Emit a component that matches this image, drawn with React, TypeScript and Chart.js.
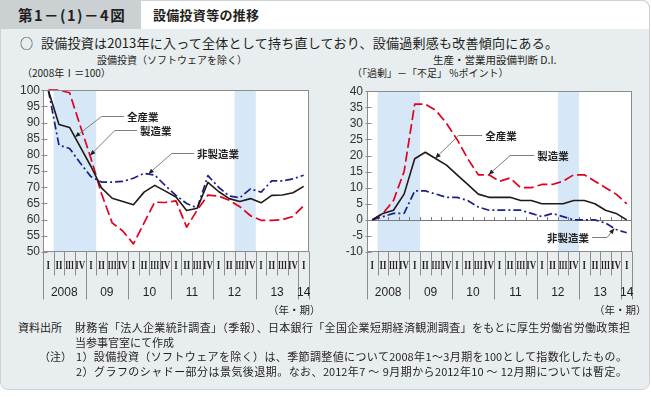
import React, { useEffect, useRef } from "react";
import { Chart, registerables } from "chart.js";

Chart.register(...registerables);

// ---------- data ----------
const quarterLabels = ["I","II","III","IV","I","II","III","IV","I","II","III","IV","I","II","III","IV","I","II","III","IV","I","II","III","IV","I"];
const yearLabels = ["2008", "09", "10", "11", "12", "13", "14"];
const yearStartIndex = [0, 4, 8, 12, 16, 20, 24];
const recessionIndex = [1, 2, 3, 4, 18, 19];

// 設備投資（ソフトウェアを除く） 2008年I=100
const investAll = [100, 89.4, 88.5, 82.5, 76.5, 69.8, 66.6, 65.6, 64.6, 68.5, 70.6, 68.8, 67, 62.8, 63.5, 71.5, 68.7, 66.5, 65.6, 66.5, 65.2, 67.5, 67.6, 68.3, 70.3];
const investMfg = [100, 100, 99.2, 89, 79, 68, 59, 56.5, 52.5, 59, 65.4, 65.3, 65.8, 57.7, 63, 67.6, 67.3, 66, 64, 61.2, 59.8, 59.8, 60, 61, 64.3];
const investNonMfg = [100, 83, 82, 77.5, 73.3, 71.6, 71.6, 71.8, 72.8, 74.3, 73.8, 70.5, 67.5, 65, 63.6, 73.6, 70, 67.3, 66.8, 69.5, 68.5, 72, 72, 72.6, 73.7];
const investYTicks = [50, 55, 60, 65, 70, 75, 80, 85, 90, 95, 100];

// 生産・営業用設備判断D.I.
const diAll = [0, 2, 3, 8, 19, 21, 19, 17, 14, 11, 8, 7, 7, 7, 6, 6, 5, 5, 5, 6, 6, 5, 3, 2, 0];
const diMfg = [0, 2, 6, 15, 36, 36, 34, 30, 25, 19, 14, 14, 12, 13, 10, 10, 11, 11, 12, 14, 14, 12, 10, 8, 5];
const diNonMfg = [0, 1, 2, 2, 9, 9, 8, 7, 7, 6, 4, 3, 3, 3, 3, 2, 1, 2, 1, 0, 0, 0, -1, -3, -4];
const diYTicks = [-10, -5, 0, 5, 10, 15, 20, 25, 30, 35, 40];

// ---------- styles ----------
const TEXT = "#231f20";
const SHADE = "#d6e8f7";
const AXIS = "#8c8c8c";
const BLACK = "#231815";
const RED = "#e2001d";
const NAVY = "#1d2088";
const JP = "'Noto Sans CJK JP', 'Noto Sans', sans-serif";
const LAT = "'Liberation Sans', Arial, sans-serif";

type Ann = {
  text: string;
  textIdx: number;
  textVal: number;
  align: "left" | "right";
  elbowIdx: number;
  targetIdx: number;
  series: number[];
};

const interp = (d: number[], t: number) => {
  const i = Math.min(Math.floor(t), d.length - 2);
  const f = t - i;
  return d[i] + (d[i + 1] - d[i]) * f;
};

function makeDecor(opts: { zeroLine: boolean; anns: Ann[] }) {
  return {
    id: "decor",
    beforeDatasetsDraw(chart: any) {
      const { ctx, chartArea: a } = chart;
      const x = chart.scales.x;
      const y = chart.scales.y;
      const step = x.getPixelForValue(1) - x.getPixelForValue(0);
      const b = (k: number) => x.getPixelForValue(0) + (k - 0.5) * step;
      ctx.save();
      ctx.fillStyle = "#ffffff";
      ctx.fillRect(a.left, a.top, a.right - a.left, a.bottom - a.top);
      ctx.fillStyle = SHADE;
      const idx = [...recessionIndex].sort((p, q) => p - q);
      let s = 0;
      while (s < idx.length) {
        let e = s;
        while (e + 1 < idx.length && idx[e + 1] === idx[e] + 1) e++;
        const x0 = b(idx[s]);
        const x1 = b(idx[e] + 1);
        ctx.fillRect(x0, a.top, x1 - x0, a.bottom - a.top);
        s = e + 1;
      }
      if (opts.zeroLine) {
        const y0 = Math.round(y.getPixelForValue(0)) + 0.5;
        ctx.strokeStyle = "#7a7a7a";
        ctx.lineWidth = 1;
        ctx.beginPath();
        ctx.moveTo(a.left, y0);
        ctx.lineTo(a.right, y0);
        for (let k = 1; k < quarterLabels.length; k++) {
          const px = Math.round(b(k)) + 0.5;
          ctx.moveTo(px, y0);
          ctx.lineTo(px, y0 - 3.5);
        }
        ctx.stroke();
      }
      ctx.restore();
    },
    afterDatasetsDraw(chart: any) {
      const { ctx, chartArea: a } = chart;
      const x = chart.scales.x;
      const y = chart.scales.y;
      const n = quarterLabels.length;
      const step = x.getPixelForValue(1) - x.getPixelForValue(0);
      const b = (k: number) => x.getPixelForValue(0) + (k - 0.5) * step;
      ctx.save();
      // frame
      const L = Math.round(a.left) + 0.5;
      const T = Math.round(a.top) + 0.5;
      const R = Math.round(a.right) - 0.5;
      const B = Math.round(a.bottom) - 0.5;
      ctx.strokeStyle = AXIS;
      ctx.lineWidth = 1;
      ctx.strokeRect(L, T, R - L, B - T);
      // y ticks (inward)
      ctx.beginPath();
      for (const t of y.ticks) {
        const py = Math.round(y.getPixelForValue(t.value)) + 0.5;
        ctx.moveTo(L - 2, py);
        ctx.lineTo(L + 4, py);
      }
      // x separators
      for (let k = 0; k <= n; k++) {
        const px = Math.round(b(k)) + 0.5;
        const long = yearStartIndex.includes(k) || k === n;
        ctx.moveTo(px, B);
        ctx.lineTo(px, B + (long ? 48 : 24));
      }
      ctx.stroke();
      // quarter labels
      ctx.fillStyle = TEXT;
      ctx.textAlign = "center";
      ctx.textBaseline = "middle";
      ctx.font = "bold 11.5px 'Liberation Serif', serif";
      quarterLabels.forEach((lab, i) => {
        ctx.save();
        ctx.translate(x.getPixelForValue(i), B + 15);
        ctx.scale(lab.length > 2 ? 0.66 : 0.78, 1);
        ctx.fillText(lab, 0, 0);
        ctx.restore();
      });
      // year labels
      ctx.font = `12px ${LAT}`;
      yearLabels.forEach((lab, j) => {
        const s0 = yearStartIndex[j];
        const s1 = j + 1 < yearStartIndex.length ? yearStartIndex[j + 1] : n;
        const cx = (b(s0) + b(s1)) / 2;
        ctx.fillText(lab, cx, B + 41);
      });
      // annotations
      for (const an of opts.anns) {
        const ty = y.getPixelForValue(an.textVal);
        const tx = x.getPixelForValue(an.textIdx);
        const ex = x.getPixelForValue(an.elbowIdx);
        const gx = x.getPixelForValue(an.targetIdx);
        const gy = y.getPixelForValue(interp(an.series, an.targetIdx));
        ctx.font = `bold 10.5px ${JP}`;
        ctx.fillStyle = TEXT;
        ctx.textAlign = an.align;
        ctx.textBaseline = "middle";
        ctx.fillText(an.text, tx, ty);
        const sx = an.align === "left" ? tx - 3 : tx + 3;
        const ly = Math.round(ty - 1) + 0.5;
        ctx.strokeStyle = "#707070";
        ctx.lineWidth = 0.9;
        ctx.beginPath();
        ctx.moveTo(sx, ly);
        ctx.lineTo(ex, ly);
        ctx.lineTo(gx, gy);
        ctx.stroke();
        const ang = Math.atan2(gy - ly, gx - ex);
        const hl = 5.5;
        const hw = 2.3;
        ctx.fillStyle = "#222";
        ctx.beginPath();
        ctx.moveTo(gx, gy);
        ctx.lineTo(gx - hl * Math.cos(ang) + hw * Math.sin(ang), gy - hl * Math.sin(ang) - hw * Math.cos(ang));
        ctx.lineTo(gx - hl * Math.cos(ang) - hw * Math.sin(ang), gy - hl * Math.sin(ang) + hw * Math.cos(ang));
        ctx.closePath();
        ctx.fill();
      }
      ctx.restore();
    },
  };
}

type Series = { data: number[]; color: string; dash: number[]; width: number };

function buildConfig(p: {
  series: Series[];
  yTicks: number[];
  yWidth: number;
  padTop: number;
  padRight: number;
  xHeight: number;
  tickPad: number;
  zeroLine: boolean;
  anns: Ann[];
}): any {
  return {
    type: "line",
    data: {
      labels: quarterLabels,
      datasets: p.series.map((s) => ({
        data: s.data,
        borderColor: s.color,
        borderWidth: s.width,
        borderDash: s.dash,
        pointRadius: 0,
        pointHoverRadius: 0,
        tension: 0,
        fill: false,
        clip: 6,
        borderCapStyle: "butt",
        borderJoinStyle: "round",
      })),
    },
    options: {
      responsive: false,
      animation: false,
      devicePixelRatio: 1,
      events: [],
      layout: { padding: { left: 0, top: p.padTop, right: p.padRight, bottom: 0 } },
      plugins: { legend: { display: false }, tooltip: { enabled: false } },
      scales: {
        x: {
          type: "category",
          offset: true,
          grid: { display: false, drawTicks: false },
          border: { display: false },
          ticks: { display: false },
          afterFit: (s: any) => {
            s.height = p.xHeight;
          },
        },
        y: {
          min: Math.min(...p.yTicks),
          max: Math.max(...p.yTicks),
          grid: { display: false, drawTicks: false },
          border: { display: false },
          ticks: {
            stepSize: p.yTicks[1] - p.yTicks[0],
            autoSkip: false,
            padding: p.tickPad,
            color: "#333",
            font: { size: 12, family: LAT },
          },
          afterFit: (s: any) => {
            s.width = p.yWidth;
          },
        },
      },
    },
    plugins: [makeDecor({ zeroLine: p.zeroLine, anns: p.anns })],
  };
}

function ChartCanvas(props: { left: number; top: number; width: number; height: number; make: () => any }) {
  const ref = useRef<HTMLCanvasElement>(null);
  useEffect(() => {
    const chart = new Chart(ref.current as HTMLCanvasElement, props.make());
    return () => chart.destroy();
  }, []);
  return (
    <canvas
      ref={ref}
      width={props.width}
      height={props.height}
      style={{ position: "absolute", left: props.left, top: props.top, width: props.width, height: props.height }}
    />
  );
}

function T(props: { x: number; y: number; w?: number; size: number; bold?: boolean; spacing?: number; children: React.ReactNode; family?: string }) {
  const st: React.CSSProperties = {
    position: "absolute",
    left: props.x,
    top: props.y,
    transform: "translateY(-50%)",
    fontSize: props.size,
    lineHeight: 1.2,
    fontWeight: props.bold ? 700 : 400,
    fontFamily: props.family || JP,
    color: TEXT,
    whiteSpace: "nowrap",
  };
  if (props.spacing) st.letterSpacing = props.spacing;
  if (props.w) {
    st.width = props.w;
    st.textAlign = "justify";
    (st as any).textAlignLast = "justify";
  }
  return <div style={st}>{props.children}</div>;
}

const leftAnns: Ann[] = [
  { text: "全産業", textIdx: 7.4, textVal: 91.8, align: "left", elbowIdx: 5.0, targetIdx: 2.5, series: investAll },
  { text: "製造業", textIdx: 8.62, textVal: 87.3, align: "left", elbowIdx: 6.25, targetIdx: 3.92, series: investMfg },
  { text: "非製造業", textIdx: 13.98, textVal: 80.4, align: "left", elbowIdx: 11.6, targetIdx: 9.4, series: investNonMfg },
];
const rightAnns: Ann[] = [
  { text: "全産業", textIdx: 10.66, textVal: 26.0, align: "left", elbowIdx: 8.14, targetIdx: 5.94, series: diAll },
  { text: "製造業", textIdx: 15.57, textVal: 19.9, align: "left", elbowIdx: 13.0, targetIdx: 10.97, series: diMfg },
  { text: "非製造業", textIdx: 20.45, textVal: -5.6, align: "right", elbowIdx: 22.15, targetIdx: 22.83, series: diNonMfg },
];

export default function App() {
  return (
    <div
      style={{
        position: "fixed",
        left: 0,
        top: 0,
        width: 651,
        height: 397,
        background: "#ffffff",
        overflow: "hidden",
        fontFamily: JP,
      }}
    >
      <div
        style={{
          position: "absolute",
          left: 0,
          top: 0,
          width: 648,
          height: 388,
          background: "#e8edef",
          border: "1px solid #cdd2d5",
          borderRadius: "0 8px 8px 8px",
        }}
      />
      <div style={{ position: "absolute", left: 0, top: 0, width: 141, height: 29, background: "#cbd0d3" }} />
      <div
        style={{
          position: "absolute",
          left: 141,
          top: 0,
          width: 508,
          height: 28,
          background: "#ffffff",
          borderTop: "1px solid #cdd2d5",
          borderRight: "1px solid #cdd2d5",
          borderRadius: "0 8px 0 0",
        }}
      />
      <T x={18} y={15} size={14.5} bold spacing={1.5}>第1－(1)－4図</T>
      <T x={153} y={15} w={106} size={13} bold>設備投資等の推移</T>
      <T x={20} y={43} size={13}>○</T>
      <T x={41} y={43} w={517} size={13}>設備投資は2013年に入って全体として持ち直しており、設備過剰感も改善傾向にある。</T>

      <T x={97} y={60} w={148} size={10}>設備投資（ソフトウェアを除く）</T>
      <T x={22} y={73} size={10}>（2008年Ⅰ＝100）</T>
      <T x={433} y={60} size={10.5}>生産・営業用設備判断 D.I.</T>
      <T x={352} y={73} size={10}>（「過剰」－「不足」 %ポイント）</T>

      <ChartCanvas
        left={0}
        top={80}
        width={325}
        height={232}
        make={() =>
          buildConfig({
            series: [
              { data: investAll, color: BLACK, dash: [], width: 1.6 },
              { data: investNonMfg, color: NAVY, dash: [8, 3, 2, 3], width: 1.7 },
              { data: investMfg, color: RED, dash: [10, 4], width: 1.7 },
            ],
            yTicks: investYTicks,
            yWidth: 43,
            padTop: 7,
            padRight: 16,
            xHeight: 60,
            tickPad: 3,
            zeroLine: false,
            anns: leftAnns,
          })
        }
      />
      <ChartCanvas
        left={325}
        top={80}
        width={326}
        height={232}
        make={() =>
          buildConfig({
            series: [
              { data: diAll, color: BLACK, dash: [], width: 1.6 },
              { data: diNonMfg, color: NAVY, dash: [8, 3, 2, 3], width: 1.7 },
              { data: diMfg, color: RED, dash: [10, 4], width: 1.7 },
            ],
            yTicks: diYTicks,
            yWidth: 42,
            padTop: 7,
            padRight: 19,
            xHeight: 60,
            tickPad: 4,
            zeroLine: true,
            anns: rightAnns,
          })
        }
      />
      <T x={268} y={310} w={40} size={10.5}>（年・期）</T>
      <T x={594} y={310} w={40} size={10.5}>（年・期）</T>

      <T x={18} y={328} w={43} size={11}>資料出所</T>
      <T x={75} y={328} w={555} size={11}>財務省「法人企業統計調査」（季報）、日本銀行「全国企業短期経済観測調査」をもとに厚生労働省労働政策担</T>
      <T x={75} y={342.5} size={11}>当参事官室にて作成</T>
      <T x={39} y={357} w={24} size={11}>（注）</T>
      <T x={76} y={357} w={551} size={11}>1）設備投資（ソフトウェアを除く）は、季節調整値について2008年1～3月期を100として指数化したもの。</T>
      <T x={76} y={371.5} w={551} size={11}>2）グラフのシャドー部分は景気後退期。なお、2012年7 ～ 9月期から2012年10 ～ 12月期については暫定。</T>
    </div>
  );
}
